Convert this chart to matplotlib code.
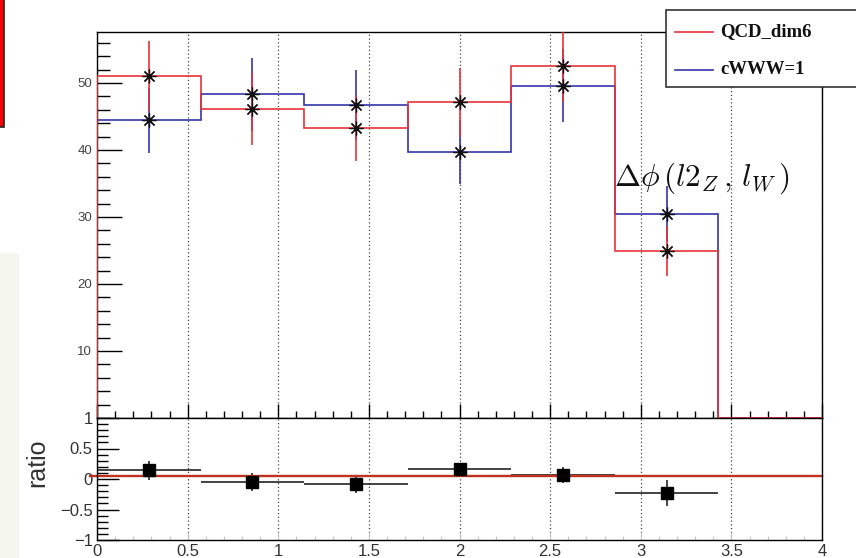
import matplotlib
matplotlib.use("Agg")
import matplotlib.pyplot as plt
import numpy as np
from matplotlib.patches import Rectangle
from matplotlib.lines import Line2D
from matplotlib.ticker import MultipleLocator

plt.rcParams['font.family'] = ['Liberation Sans', 'DejaVu Sans']
plt.rcParams['mathtext.fontset'] = 'cm'

# histogram: 7 equal bins between 0 and 4
bin_edges = np.linspace(0, 4, 8)
qcd_dim6 = [51.0, 46.1, 43.2, 47.1, 52.6, 24.9, 0.0]
qcd_err = [5.2, 5.4, 4.9, 5.2, 5.5, 3.7, 0.0]
cwww_1 = [44.4, 48.3, 46.7, 39.7, 49.6, 30.4, 0.0]
cwww_err = [4.9, 5.4, 5.2, 4.8, 5.4, 4.2, 0.0]

# lower pad
ratio = [0.14, -0.05, -0.08, 0.16, 0.06, -0.23, 0.0]
ratio_err = [0.15, 0.15, 0.15, 0.05, 0.13, 0.22, 0.0]
ref_line = 0.05

x_ticks = [0, 0.5, 1, 1.5, 2, 2.5, 3, 3.5, 4]
x_ticklabels = ["0", "0.5", "1", "1.5", "2", "2.5", "3", "3.5", "4"]

red = '#e8343a'
blue = '#3535ad'

centers = 0.5 * (bin_edges[1:] + bin_edges[:-1])
half_w = 0.5 * np.diff(bin_edges)
filled = np.array(qcd_dim6) > 0

W, H = 856, 558
fig = plt.figure(figsize=(W / 100, H / 100), dpi=100)

# slide leftovers around the canvas
fig.patches.append(Rectangle((0, 0), 19 / W, (H - 253) / H, transform=fig.transFigure,
                             fc='#f5f7ef', ec='none', zorder=0))
fig.patches.append(Rectangle((-2 / W, 1 - 127 / H), 6 / W, 130 / H, transform=fig.transFigure,
                             fc='#ff0000', ec='#222222', lw=1.2, zorder=1))

# ---------- upper pad ----------
ax1 = fig.add_axes([97 / W, 1 - 418 / H, 725 / W, 386 / H])
ax1.stairs(cwww_1, bin_edges, color=blue, lw=1.2, zorder=2)
ax1.errorbar(centers[filled], np.array(cwww_1)[filled], yerr=np.array(cwww_err)[filled],
             fmt='none', ecolor=blue, elinewidth=1.2, capsize=0, zorder=2)
ax1.stairs(qcd_dim6, bin_edges, color=red, lw=1.2, zorder=3)
ax1.errorbar(centers[filled], np.array(qcd_dim6)[filled], yerr=np.array(qcd_err)[filled],
             fmt='none', ecolor=red, elinewidth=1.2, capsize=0, zorder=3)
for vals in (cwww_1, qcd_dim6):
    ax1.plot(centers[filled], np.array(vals)[filled], ls='none', marker=(8, 2, 0),
             ms=10, mec='#111111', mew=0.9, zorder=4)

ax1.set_xlim(0, 4)
ax1.set_ylim(0, 57.6)
ax1.set_xticks(x_ticks)
ax1.set_yticks([10, 20, 30, 40, 50])
ax1.xaxis.set_minor_locator(MultipleLocator(0.1))
ax1.yaxis.set_minor_locator(MultipleLocator(2))
ax1.grid(axis='x', ls=(0, (1, 2)), color='#444444', lw=0.9)
ax1.tick_params(which='both', direction='in', top=False, right=False,
                labelbottom=False, labelsize=9.5, labelcolor='#444444', pad=3.5)
ax1.tick_params(axis='y', which='major', length=18, width=1)
ax1.tick_params(axis='y', which='minor', length=9, width=1)
ax1.tick_params(axis='x', which='major', length=10, width=1)
ax1.tick_params(axis='x', which='minor', length=5, width=1)
for s in ax1.spines.values():
    s.set_linewidth(1.0)

# ---------- lower pad ----------
ax2 = fig.add_axes([97 / W, 1 - 540 / H, 725 / W, 122 / H])
ax2.errorbar(centers[filled], np.array(ratio)[filled], xerr=half_w[filled],
             yerr=np.array(ratio_err)[filled], fmt='none', ecolor='#111111',
             elinewidth=1.1, capsize=0, zorder=2)
ax2.plot([-0.04, 4], [ref_line, ref_line], color='#c0321e', lw=1.7, clip_on=False, zorder=2.5)
ax2.plot(centers[filled], np.array(ratio)[filled], ls='none', marker='s', ms=8,
         color='black', zorder=3)

ax2.set_xlim(0, 4)
ax2.set_ylim(-1, 1)
ax2.set_xticks(x_ticks)
ax2.set_xticklabels(x_ticklabels)
ax2.set_yticks([-1, -0.5, 0, 0.5, 1])
ax2.set_yticklabels(["\u22121", "\u22120.5", "0", "0.5", "1"])
ax2.xaxis.set_minor_locator(MultipleLocator(0.1))
ax2.yaxis.set_minor_locator(MultipleLocator(0.1))
ax2.grid(axis='x', ls=(0, (1, 2)), color='#444444', lw=0.9)
ax2.tick_params(which='both', direction='in', top=False, right=False,
                labelsize=12, labelcolor='#333333', pad=3)
ax2.tick_params(axis='y', which='major', length=16, width=1)
ax2.tick_params(axis='y', which='minor', length=8, width=1)
ax2.tick_params(axis='x', which='major', length=6, width=0.8, color='#c8c8c8')
ax2.tick_params(axis='x', which='minor', length=3, width=0.8, color='#c8c8c8')
for s in ax2.spines.values():
    s.set_linewidth(1.0)

fig.text(37.5 / W, 1 - 463 / H, "ratio", rotation=90, fontsize=18, color='#333333',
         ha='center', va='center')

# legend box
fig.patches.append(Rectangle((666 / W, 1 - 87 / H), 200 / W, 77 / H, transform=fig.transFigure,
                             fc='white', ec='#222222', lw=1.1, zorder=5))
for y, col, lab in ((32, red, "QCD_dim6"), (70, blue, "cWWW=1")):
    fig.lines.append(Line2D([675 / W, 713 / W], [1 - y / H, 1 - y / H], transform=fig.transFigure,
                            color=col, lw=1.2, zorder=6))
    fig.text(720 / W, 1 - y / H, lab, fontsize=13.5, fontweight='bold', family='Liberation Serif',
             color='#111111', ha='left', va='center', zorder=6)

fig.text(614 / W, 1 - 186 / H, r"$\Delta\phi\,(l2_{Z}\,,\,l_{W}\,)$", fontsize=22.5,
         color='#111111', ha='left', va='baseline')

fig.savefig("out.png", dpi=100)
